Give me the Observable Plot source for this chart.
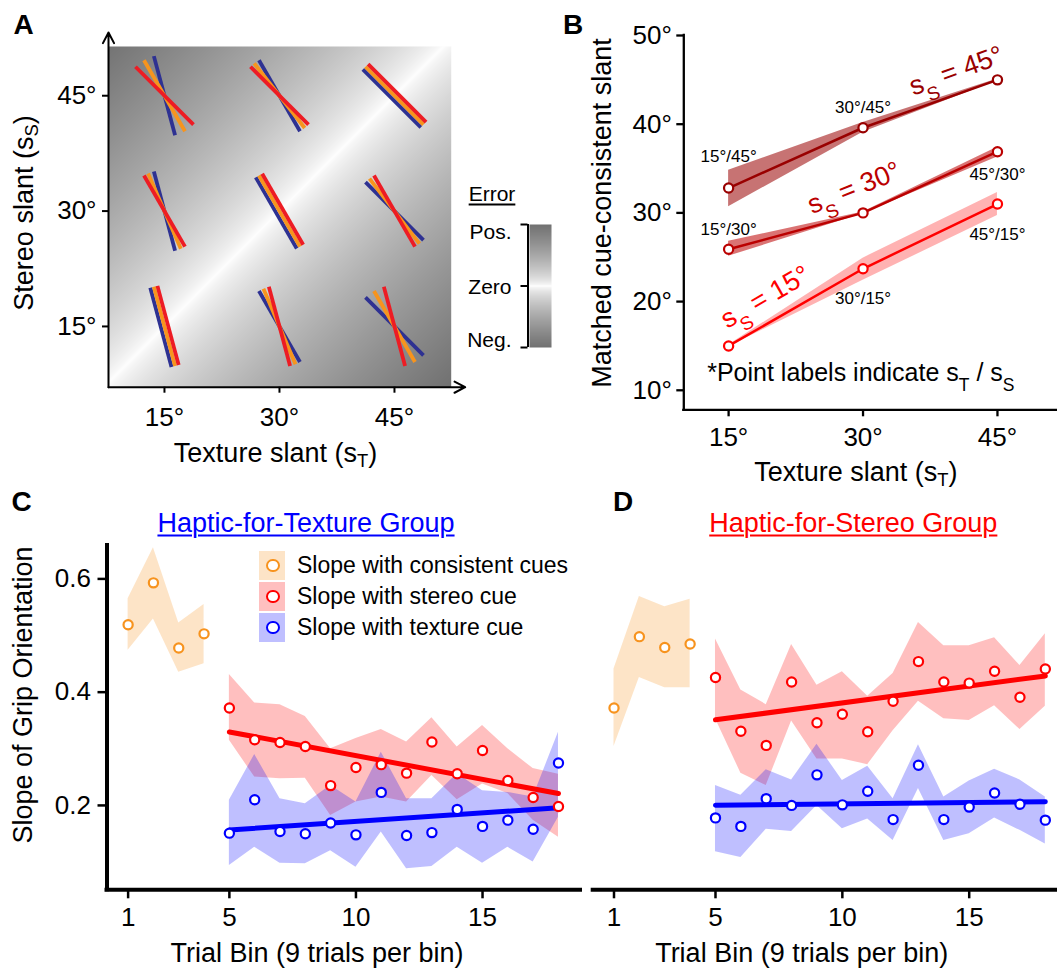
<!DOCTYPE html>
<html><head><meta charset="utf-8">
<script src="https://cdn.jsdelivr.net/npm/d3@7"></script>
<script src="https://cdn.jsdelivr.net/npm/@observablehq/plot@0.6"></script>
<style>
body{margin:0;background:#fff;}
#fig{position:relative;width:1057px;height:969px;font-family:"Liberation Sans",Arial,Helvetica,sans-serif;color:#000;overflow:hidden;background:#fff}
.lbl{position:absolute;transform:translate(-50%,-50%);white-space:nowrap;line-height:1}
.rot{transform:translate(-50%,-50%) rotate(-90deg)}
.letter{position:absolute;font-weight:bold;font-size:28px;line-height:1}
.ttl{font-size:27px}
sub{font-size:68%;vertical-align:-0.28em;line-height:0}
.u{text-decoration:underline;text-decoration-thickness:2px;text-underline-offset:3px}
</style></head><body><div id="fig"></div>
<script>
// ---------------- Panel A data ----------------
const slantTicks = [15, 30, 45];
const cellTexture = [15, 30, 45, 15, 30, 45, 15, 30, 45];   // s_T of each cell (blue bar angle)
const cellStereo  = [15, 15, 15, 30, 30, 30, 45, 45, 45];   // s_S of each cell (red bar angle)
const cellGrip    = [15, 23, 30, 23.5, 30, 37.5, 30, 38, 45]; // combined (orange bar angle)
const errorLabels = ["Pos.", "Zero", "Neg."];
const errorLevels = [1, 0, -1];

// ---------------- Panel B data ----------------
const bTexture = [15, 30, 45];
const matched45 = [32.8, 39.6, 45.0], matched45Lo = [30.7, 39.1, 44.9], matched45Hi = [34.8, 40.2, 45.1];
const matched30 = [25.9, 30.0, 36.9], matched30Lo = [25.1, 29.9, 36.3], matched30Hi = [26.8, 30.1, 37.4];
const matched15 = [15.0, 23.7, 31.0], matched15Lo = [14.9, 22.4, 29.7], matched15Hi = [15.1, 24.9, 32.3];
const bYTicks = [10, 20, 30, 40, 50];

// ---------------- Panels C / D data ----------------
const binsConsistent = [1, 2, 3, 4];
const binsConflict = [5, 6, 7, 8, 9, 10, 11, 12, 13, 14, 15, 16, 17, 18];
const binTicks = [1, 5, 10, 15];
const slopeTicks = [0.2, 0.4, 0.6];
const legendLabels = ["Slope with consistent cues", "Slope with stereo cue", "Slope with texture cue"];

const cConsistent   = [0.519, 0.593, 0.478, 0.503];
const cConsistentLo = [0.474, 0.529, 0.435, 0.450];
const cConsistentHi = [0.565, 0.655, 0.522, 0.555];
const cStereo   = [0.372,0.316,0.311,0.304,0.235,0.267,0.272,0.257,0.312,0.256,0.297,0.244,0.214,0.198];
const cStereoLo = [0.315,0.250,0.247,0.248,0.182,0.206,0.215,0.206,0.253,0.210,0.238,0.221,0.174,0.144];
const cStereoHi = [0.431,0.381,0.378,0.357,0.300,0.318,0.334,0.312,0.355,0.303,0.341,0.300,0.265,0.255];
const cTexture   = [0.151,0.210,0.154,0.150,0.169,0.148,0.223,0.147,0.152,0.193,0.163,0.174,0.158,0.275];
const cTextureLo = [0.094,0.126,0.098,0.097,0.120,0.091,0.153,0.088,0.092,0.126,0.098,0.126,0.100,0.179];
const cTextureHi = [0.209,0.290,0.212,0.203,0.235,0.206,0.294,0.212,0.212,0.256,0.226,0.223,0.215,0.329];

const dConsistent   = [0.372, 0.498, 0.479, 0.485];
const dConsistentLo = [0.304, 0.426, 0.408, 0.408];
const dConsistentHi = [0.441, 0.569, 0.551, 0.564];
const dStereo   = [0.426,0.331,0.306,0.418,0.346,0.361,0.330,0.384,0.454,0.418,0.416,0.437,0.391,0.441];
const dStereoLo = [0.353,0.257,0.235,0.349,0.282,0.282,0.272,0.332,0.384,0.353,0.350,0.376,0.334,0.375];
const dStereoHi = [0.494,0.404,0.378,0.484,0.412,0.436,0.393,0.433,0.523,0.482,0.482,0.496,0.447,0.503];
const dTexture   = [0.178,0.163,0.212,0.200,0.254,0.201,0.225,0.175,0.271,0.175,0.197,0.222,0.202,0.174];
const dTextureLo = [0.118,0.108,0.158,0.154,0.200,0.159,0.176,0.138,0.230,0.138,0.150,0.178,0.156,0.132];
const dTextureHi = [0.235,0.218,0.263,0.245,0.308,0.244,0.269,0.212,0.307,0.215,0.243,0.264,0.245,0.215];

// ---------------- styling ----------------
const FONT = '"Liberation Sans", Arial, Helvetica, sans-serif';
const STYLE = {background: "transparent", overflow: "visible", fontFamily: FONT, color: "black"};
const RED_A = "#ed1c24", ORANGE_A = "#f7941d", BLUE_A = "#2e3192";
const ORANGE = "#f7931e", RED = "#ff0000", BLUE = "#0000ff";
const GRAY_SCALE = {type: "pow", exponent: 0.7, range: ["#ffffff", "#717171"]};
const fig = document.getElementById("fig");
const deg = d => `${d}°`;

function place(el, left, top) {
  el.style.position = "absolute"; el.style.left = left + "px"; el.style.top = top + "px";
  fig.appendChild(el); subify(el); return el;
}
function subify(svg) {
  const ns = "http://www.w3.org/2000/svg";
  svg.querySelectorAll("text").forEach(t => {
    const s = t.textContent;
    if (!s.includes("_")) return;
    while (t.firstChild) t.removeChild(t.firstChild);
    const re = /_(\w)/g; let last = 0, m;
    const add = (txt, sub) => { const e = document.createElementNS(ns, "tspan"); e.textContent = txt;
      if (sub) { e.setAttribute("font-size", "70%"); e.setAttribute("baseline-shift", "sub"); } t.appendChild(e); };
    while ((m = re.exec(s))) { if (m.index > last) add(s.slice(last, m.index), false); add(m[1], true); last = re.lastIndex; }
    if (last < s.length) add(s.slice(last), false);
  });
}
function html(cls, content, x, y) {
  const d = document.createElement("div"); d.className = cls; d.innerHTML = content;
  d.style.left = x + "px"; d.style.top = y + "px"; fig.appendChild(d); return d;
}

// ================= Panel A =================
const aX = [7.7, 52.4], aY = [7.1, 51.4];
const cells = cellTexture.map((t, i) => ({sT: t, sS: cellStereo[i], grip: cellGrip[i]}));
const parallelCells = cells.filter(d => d.sT === d.sS);   // identical angles: bars side by side
const crossingCells = cells.filter(d => d.sT !== d.sS);   // different angles: bars cross at centre
const bar = off => ({draw(ctx, l) { ctx.moveTo(off, l / 2); ctx.lineTo(off, -l / 2); }});
const barOpts = {x: "sT", y: "sS", length: 82, anchor: "start", strokeWidth: 3.8, strokeLinecap: "butt"};
const barMarks = [];
[[crossingCells, 0], [parallelCells, 3.7]].forEach(([data, off]) => {
  barMarks.push(Plot.vector(data, {...barOpts, rotate: d => -d.sT, shape: bar(-off), stroke: BLUE_A}));
  barMarks.push(Plot.vector(data, {...barOpts, rotate: d => -d.grip, shape: bar(0), stroke: ORANGE_A}));
  barMarks.push(Plot.vector(data, {...barOpts, rotate: d => -d.sS, shape: bar(off), stroke: RED_A}));
});
const plotA = Plot.plot({
  width: 480, height: 440, marginLeft: 108, marginRight: 29.3, marginTop: 46, marginBottom: 53.3,
  style: STYLE,
  x: {domain: aX, axis: null}, y: {domain: aY, axis: null},
  color: {...GRAY_SCALE, domain: [0, 45]},
  marks: [
    Plot.raster({x1: aX[0], x2: aX[1], y1: aY[0], y2: aY[1], fill: (x, y) => Math.abs(y - x), pixelSize: 1}),
    ...barMarks,
    Plot.arrow([0], {x1: aX[0], y1: aY[0], x2: aX[1], y2: aY[0], insetEnd: -14, headLength: 9, headAngle: 55, strokeWidth: 2, stroke: "black"}),
    Plot.arrow([0], {x1: aX[0], y1: aY[0], x2: aX[0], y2: aY[1], insetEnd: -14, headLength: 9, headAngle: 55, strokeWidth: 2, stroke: "black"}),
    Plot.axisX({ticks: slantTicks, tickFormat: deg, tickSize: 6, tickPadding: 14, strokeWidth: 2, fontSize: 26, label: null}),
    Plot.axisY({ticks: slantTicks, tickFormat: deg, tickSize: 6, tickPadding: 6, strokeWidth: 2, fontSize: 26, label: null})
  ]
});
place(plotA, 0, 0);

// colour bar
const errDy = [8, 1, -7];
const plotErr = Plot.plot({
  width: 120, height: 150, marginLeft: 89, marginRight: 9, marginTop: 14, marginBottom: 13,
  style: STYLE,
  x: {domain: [0, 1], axis: null}, y: {domain: [-1, 1], axis: null},
  color: {...GRAY_SCALE, domain: [0, 1]},
  marks: [
    Plot.raster({x1: 0, x2: 1, y1: -1, y2: 1, fill: (x, y) => Math.abs(y), pixelSize: 1}),
    Plot.ruleX([0], {dx: -1.5, strokeWidth: 2}),
    Plot.axisY({ticks: errorLevels, tickFormat: () => "", tickSize: 7, dx: -1.5, strokeWidth: 2}),
    ...errorLabels.map((lab, i) => Plot.text([lab], {y: errorLevels[i], text: d => d, frameAnchor: "left", textAnchor: "end", dx: -18, dy: errDy[i], fontSize: 21, fill: "black"}))
  ]
});
place(plotErr, 440, 210);

// ================= Panel B =================
const bX = [10, 51.7], bY = [7.8, 50];
const bSeries = [
  {sS: 45, m: matched45, lo: matched45Lo, hi: matched45Hi, color: "#990000", op: 0.55},
  {sS: 30, m: matched30, lo: matched30Lo, hi: matched30Hi, color: "#bb0000", op: 0.55},
  {sS: 15, m: matched15, lo: matched15Lo, hi: matched15Hi, color: "#ff0000", op: 0.3}
];
const bRows = s => bTexture.map((t, i) => ({sT: t, sS: s.sS, m: s.m[i], lo: s.lo[i], hi: s.hi[i]}));
// point-label vertical offsets (px) for [sS=45, 30, 15] x [sT=15, 30, 45]; null = no label
const bLabelDy = [[-32, -20, null], [-20, null, 23], [null, 30, 31]];
// series annotations (position in data units, rotation)
const bSeriesLabelAt = [[40.4, 46.0, -20], [29.0, 32.8, -22], [19.1, 20.5, -30]];
const bMarks = [];
bSeries.forEach(s => bMarks.push(Plot.areaY(bRows(s), {x: "sT", y1: "lo", y2: "hi", fill: s.color, fillOpacity: s.op})));
bSeries.forEach(s => bMarks.push(Plot.line(bRows(s), {x: "sT", y: "m", stroke: s.color, strokeWidth: 2.5})));
bSeries.forEach(s => bMarks.push(Plot.dot(bRows(s), {x: "sT", y: "m", r: 4.6, fill: "white", stroke: s.color, strokeWidth: 2.2})));
bSeries.forEach((s, si) => bRows(s).forEach((d, ti) => {
  const dy = bLabelDy[si][ti];
  if (dy !== null) bMarks.push(Plot.text([d], {x: "sT", y: "m", text: d => `${d.sT}°/${d.sS}°`, dy, fontSize: 17, fill: "black"}));
}));
bSeries.forEach((s, si) => {
  const [x, y, r] = bSeriesLabelAt[si];
  bMarks.push(Plot.text([s], {x: () => x, y: () => y, text: d => `s_S = ${d.sS}°`, rotate: r, fontSize: 27, fill: s.color}));
});
const plotB = Plot.plot({
  width: 517, height: 460, marginLeft: 143.3, marginRight: 0, marginTop: 35, marginBottom: 50.7,
  style: STYLE,
  x: {domain: bX, axis: null}, y: {domain: bY, axis: null},
  marks: [
    ...bMarks,
    Plot.text(["*Point labels indicate s_T / s_S"], {frameAnchor: "bottom-left", textAnchor: "start", dx: 23.4, dy: -29.3, fontSize: 25, fill: "black"}),
    Plot.ruleX([bX[0]], {strokeWidth: 2.3, strokeLinecap: "square"}),
    Plot.ruleY([bY[0]], {strokeWidth: 2.3, strokeLinecap: "square"}),
    Plot.axisX({ticks: bTexture, tickFormat: deg, tickSize: 7, tickPadding: 11, strokeWidth: 2.3, fontSize: 26, label: null}),
    Plot.axisY({ticks: bYTicks, tickFormat: deg, tickSize: 7, tickPadding: 5, strokeWidth: 2.3, fontSize: 26, label: null})
  ]
});
place(plotB, 540, 0);

// ================= Panels C & D =================
const yDomCD = [0.051, 0.659];
function trialPanel(o) {
  const rows = (bins, v, lo, hi) => bins.map((b, i) => ({bin: b, v: v[i], lo: lo[i], hi: hi[i]}));
  const cons = rows(binsConsistent, o.cons, o.consLo, o.consHi);
  const ster = rows(binsConflict, o.ster, o.sterLo, o.sterHi);
  const tex = rows(binsConflict, o.tex, o.texLo, o.texHi);
  const marks = [
    Plot.areaY(cons, {x: "bin", y1: "lo", y2: "hi", fill: ORANGE, fillOpacity: 0.25}),
    Plot.areaY(ster, {x: "bin", y1: "lo", y2: "hi", fill: RED, fillOpacity: 0.25}),
    Plot.areaY(tex, {x: "bin", y1: "lo", y2: "hi", fill: BLUE, fillOpacity: 0.25}),
    Plot.linearRegressionY(ster, {x: "bin", y: "v", stroke: RED, strokeWidth: 5, ci: 0}),
    Plot.linearRegressionY(tex, {x: "bin", y: "v", stroke: BLUE, strokeWidth: 5, ci: 0}),
    Plot.dot(cons, {x: "bin", y: "v", r: 4.6, fill: "white", stroke: ORANGE, strokeWidth: 2.2}),
    Plot.dot(ster, {x: "bin", y: "v", r: 4.6, fill: "white", stroke: RED, strokeWidth: 2.2}),
    Plot.dot(tex, {x: "bin", y: "v", r: 4.6, fill: "white", stroke: BLUE, strokeWidth: 2.2}),
    Plot.ruleY([yDomCD[0]], {strokeWidth: 4, strokeLinecap: "square"}),
    Plot.axisX({ticks: binTicks, tickSize: 9, tickPadding: 9, strokeWidth: 2.5, fontSize: 26, label: null})
  ];
  if (o.yAxis) {
    marks.push(Plot.ruleX([o.xDom[0]], {strokeWidth: 4, strokeLinecap: "square"}));
    marks.push(Plot.axisY({ticks: slopeTicks, tickFormat: d3.format(".1f"), tickSize: 9, tickPadding: 7, strokeWidth: 2.5, fontSize: 26, label: null}));
  }
  return Plot.plot({
    width: o.width, height: 420, marginLeft: o.marginLeft, marginRight: 0, marginTop: 15, marginBottom: 60.7,
    style: STYLE,
    x: {domain: o.xDom, axis: null}, y: {domain: yDomCD, axis: null},
    marks
  });
}
place(trialPanel({cons: cConsistent, consLo: cConsistentLo, consHi: cConsistentHi,
  ster: cStereo, sterLo: cStereoLo, sterHi: cStereoHi, tex: cTexture, texLo: cTextureLo, texHi: cTextureHi,
  xDom: [0.166, 18.87], width: 580, marginLeft: 106.5, yAxis: true}), 0, 530);
place(trialPanel({cons: dConsistent, consLo: dConsistentLo, consHi: dConsistentHi,
  ster: dStereo, sterLo: dStereoLo, sterHi: dStereoHi, tex: dTexture, texLo: dTextureLo, texHi: dTextureHi,
  xDom: [0.18, 18.48], width: 477, marginLeft: 12.7, yAxis: false}), 580, 530);

// ================= HTML text: letters, titles, legend =================
[["A", 13.5, 11.3], ["B", 563, 11.3], ["C", 11.6, 488], ["D", 613, 488]].forEach(([t, x, y]) => {
  const d = document.createElement("div"); d.className = "letter"; d.textContent = t;
  d.style.left = x + "px"; d.style.top = y + "px"; fig.appendChild(d);
});
html("lbl ttl", "Texture slant (s<sub>T</sub>)", 275.5, 453);
html("lbl ttl rot", "Stereo slant (s<sub>S</sub>)", 23.5, 213);
html("lbl ttl", "Texture slant (s<sub>T</sub>)", 855.8, 472);
html("lbl ttl rot", "Matched cue-consistent slant", 601.7, 213.3);
html("lbl ttl", "Trial Bin (9 trials per bin)", 317, 953);
html("lbl ttl", "Trial Bin (9 trials per bin)", 801.7, 953);
html("lbl ttl rot", "Slope of Grip Orientation", 23, 695);
html("lbl u", "Error", 492, 193).style.fontSize = "21px";
const tC = html("lbl ttl u", "Haptic-for-Texture Group", 306, 522.5); tC.style.color = BLUE;
const tD = html("lbl ttl u", "Haptic-for-Stereo Group", 853.3, 522.5); tD.style.color = RED;

const legendColors = [ORANGE, RED, BLUE];
const legendFills = ["rgba(247,147,30,0.25)", "rgba(255,0,0,0.25)", "rgba(0,0,255,0.25)"];
legendLabels.forEach((lab, i) => {
  const top = 550.7 + i * 31;
  const box = document.createElement("div");
  Object.assign(box.style, {position: "absolute", left: "259px", top: top + "px", width: "26px", height: "29.5px", background: legendFills[i]});
  fig.appendChild(box);
  const c = document.createElement("div");
  Object.assign(c.style, {position: "absolute", left: (273 - 6.7) + "px", top: (top + 14.75 - 6.7) + "px", width: "9.4px", height: "9.4px",
    borderRadius: "50%", border: `2px solid ${legendColors[i]}`, background: "white"});
  fig.appendChild(c);
  const t = document.createElement("div");
  Object.assign(t.style, {position: "absolute", left: "297px", top: (top + 14.75) + "px", transform: "translateY(-50%)", fontSize: "23px", lineHeight: "1", whiteSpace: "nowrap"});
  t.textContent = lab; fig.appendChild(t);
});
</script></body></html>
